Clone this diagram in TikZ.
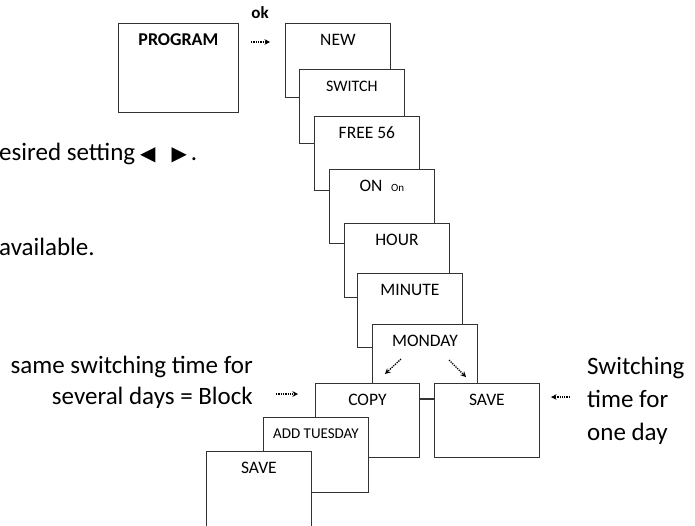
\documentclass[tikz,border=0pt]{standalone}
\usepackage{fontspec}
\setmainfont{Carlito}
\newfontfamily\symfont{DejaVu Sans}
\usetikzlibrary{arrows.meta}
\tikzset{
  panel/.style={draw=black!80, line width=0.8pt, fill=white, anchor=north west,
    minimum width=105pt, minimum height=74pt, inner sep=0pt},
  paneltext/.style={anchor=base, inner sep=0pt, font=\fontsize{17.5}{17.5}\selectfont},
  dotarrow/.style={densely dotted, line width=1.3pt, -{Stealth[length=5.5pt,width=5.5pt]}},
  note/.style={inner sep=0pt, font=\fontsize{25}{25}\selectfont},
}

\begin{document}
\begin{tikzpicture}[x=1pt, y=-1pt]
  \useasboundingbox (0,0) rectangle (695,525);
  \clip (0,0) rectangle (695,525);
  % start screen
  \node[panel, minimum width=120pt, minimum height=89pt] (program) at (118,23) {};
  \node[paneltext, font=\bfseries\fontsize{18}{18}\selectfont] (program-t)
    at ([yshift=-22pt]program.north) {PROGRAM};
  \node[inner sep=0pt, anchor=base, font=\bfseries\fontsize{17}{17}\selectfont] (ok) at (260,18) {ok};
  \coordinate (okA) at (251,42);
  \coordinate (okB) at (270,42);
  \draw[dotarrow] (okA) -- (okB);
  % menu stack, each screen drawn over the one before
  \foreach \n/\x/\y/\t in {
    new/285/23/NEW,
    switch/299/69/{\fontsize{16}{16}\selectfont SWITCH},
    free/314/116/FREE 56,
    on/329/169/{ON\enspace{\fontsize{11}{11}\selectfont On}},
    hour/344/223/HOUR,
    minute/357/273/MINUTE,
    monday/372/324/MONDAY
  } {
    \node[panel] (\n) at (\x,\y) {};
    \node[paneltext] (\n-t) at ([yshift=-22pt]\n.north) {\t};
  }
  % choice arrows inside MONDAY
  \coordinate (mondayA) at (401,359);
  \coordinate (mondayB) at (385,374);
  \coordinate (mondayC) at (449,360);
  \coordinate (mondayD) at (466,377);
  \draw[dotarrow] (mondayA) -- (mondayB);
  \draw[dotarrow] (mondayC) -- (mondayD);
  % branch: copy or save
  \node[panel, minimum width=104pt] (copy) at (315,383) {};
  \node[paneltext] (copy-t) at ([yshift=-22pt]copy.north) {COPY};
  \node[panel] (saveday) at (434,383) {};
  \node[paneltext] (saveday-t) at ([yshift=-22pt]saveday.north) {SAVE};
  \draw[draw=black!80, line width=0.8pt] ([yshift=-16pt]copy.north east) -- ([yshift=-16pt]saveday.north west);
  \node[panel, minimum height=75pt] (addday) at (263,417) {};
  \node[paneltext, font=\fontsize{15}{15}\selectfont] (addday-t) at ([yshift=-21pt]addday.north) {ADD TUESDAY};
  \node[panel, minimum height=95pt] (saveblock) at (206,451) {};
  \node[paneltext] (saveblock-t) at ([yshift=-22pt]saveblock.north) {SAVE};
  % side notes
  \node[note, anchor=base west] (hint) at (-1,160)
    {esired setting\hspace{5pt}{\symfont\fontsize{20}{20}\selectfont ◀}\hspace{16pt}{\symfont\fontsize{20}{20}\selectfont ▶}\hspace{4pt}.};
  \node[note, anchor=base west] (avail) at (-1,255) {available.};
  \node[note, anchor=base east] (block1) at (253,373) {same switching time for};
  \node[note, anchor=base east] (block2) at (253,404) {several days = Block};
  \coordinate (blockA) at (276,394);
  \coordinate (blockB) at (298,394);
  \draw[dotarrow] (blockA) -- (blockB);
  \node[note, anchor=base west] (day1) at (587,374) {Switching};
  \node[note, anchor=base west] (day2) at (587,407) {time for};
  \node[note, anchor=base west] (day3) at (587,440) {one day};
  \coordinate (dayA) at (570,397);
  \coordinate (dayB) at (551,397);
  \draw[dotarrow] (dayA) -- (dayB);
\end{tikzpicture}
\end{document}
